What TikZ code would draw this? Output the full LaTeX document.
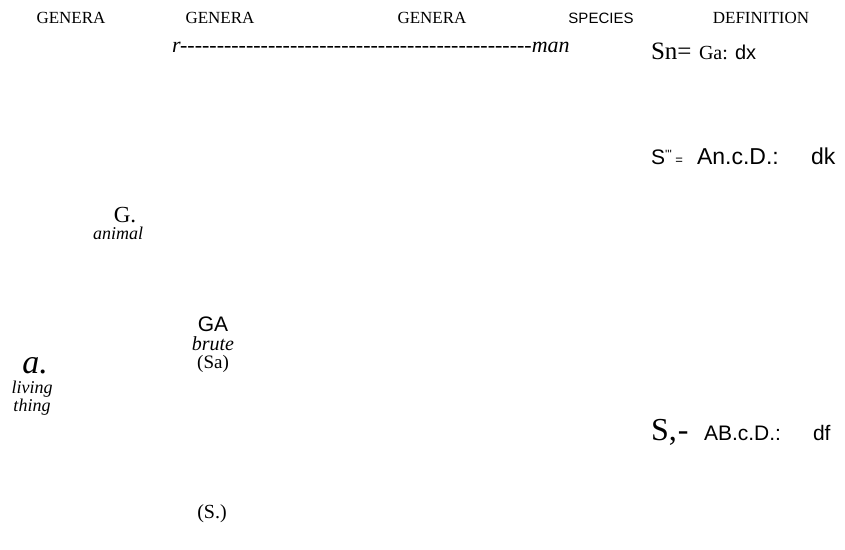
\documentclass[tikz,border=0pt]{standalone}
\usepackage{fontspec}
\setmainfont{Liberation Serif}
\setsansfont{Liberation Sans}
\newcommand{\fs}[1]{\fontsize{#1bp}{#1bp}\selectfont}
% a single hyphen that never joins its neighbours into a dash
\newcommand{\hy}{-\kern0pt}
\newcommand{\hyten}{\hy\hy\hy\hy\hy\hy\hy\hy\hy\hy}
\begin{document}
\begin{tikzpicture}[x=1bp,y=-1bp,
  every node/.style={inner sep=0pt,outer sep=0pt},
  head/.style={anchor=base,font=\fs{17}},
  headsf/.style={anchor=base,font=\sffamily\fs{15}},
  row/.style={anchor=base west},
  lbl/.style={anchor=base}]
\useasboundingbox (0,0) rectangle (845,550);
% column headings
\node[head]   (g1) at (71,24)  {GENERA};
\node[head]   (g2) at (220,24) {GENERA};
\node[head]   (g3) at (432,24) {GENERA};
\node[headsf] (sp) at (601,24) {SPECIES};
\node[head]   (df) at (761,24) {DEFINITION};
% species line
\node[row,font=\itshape\fs{22}] (man) at (172,53)
  {r\hyten\hyten\hyten\hyten\hy\hy\hy\hy\hy\hy\hy\hy man};
% definitions
\node[row,font=\fs{25}]          (d1a) at (651,60)  {Sn=};
\node[row,font=\fs{20}]          (d1b) at (699,60)  {Ga:};
\node[row,font=\sffamily\fs{20}] (d1c) at (735,60)  {dx};
\node[row,font=\sffamily\fs{21}] (d2a) at (651,165)
  {S\raisebox{0.6ex}{\fs{12}\textquotesingle\textquotesingle\textquotesingle}\,{\fs{13}=}};
\node[row,font=\sffamily\fs{23}] (d2b) at (697,165) {An.c.D.:};
\node[row,font=\sffamily\fs{23}] (d2c) at (811,165) {dk};
\node[row,font=\fs{32}]          (d3a) at (651,440) {S,\kern1bp-};
\node[row,font=\sffamily\fs{21}] (d3b) at (704,440) {AB.c.D.:};
\node[row,font=\sffamily\fs{21}] (d3c) at (813,440) {df};
% genera column
\node[lbl,font=\fs{23}]          (G)  at (125,223) {G.};
\node[lbl,font=\itshape\fs{18}]  (an) at (118,240) {animal};
\node[lbl,font=\sffamily\fs{21}] (GA) at (213,332) {GA};
\node[lbl,font=\itshape\fs{20}]  (br) at (213,350) {brute};
\node[lbl,font=\fs{19}]          (sa) at (213,368) {(Sa)};
\node[lbl,font=\itshape\fs{34}]  (a)  at (35,373)  {a.};
\node[lbl,font=\itshape\fs{18}]  (lv) at (32,393)  {living};
\node[lbl,font=\itshape\fs{18}]  (th) at (32,411)  {thing};
\node[lbl,font=\fs{20}]          (S)  at (212,518) {(S.)};
\end{tikzpicture}
\end{document}
